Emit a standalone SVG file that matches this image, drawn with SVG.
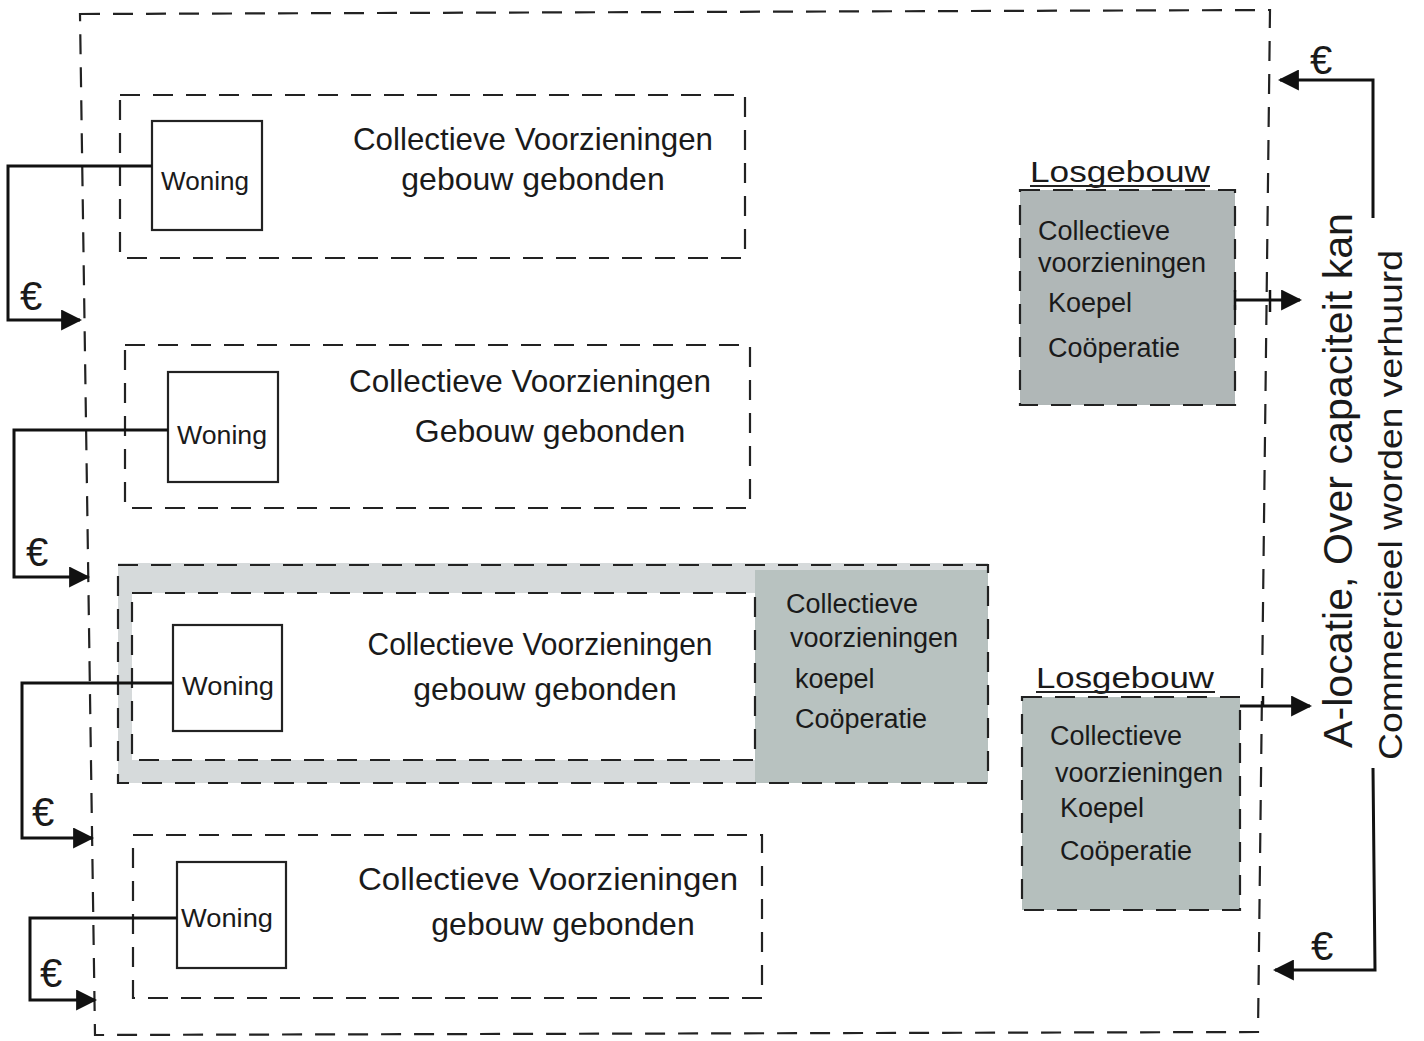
<svg xmlns="http://www.w3.org/2000/svg" width="1424" height="1041" viewBox="0 0 1424 1041">
<style>
.dash{fill:none;stroke:#222;stroke-width:2.2;stroke-dasharray:20 13}
.box{fill:#fff;stroke:#222;stroke-width:2.2}
.con{fill:none;stroke:#111;stroke-width:3}
.t{font-family:"Liberation Sans","DejaVu Sans",sans-serif;fill:#1a1a1a}
.big{font-size:32px}
.mid{font-size:27px}
.w{font-size:26px}
.eur{font-size:40px}
.los{font-size:30px}
</style>
<defs>
<marker id="ah" viewBox="0 0 10 10" refX="9" refY="5" markerWidth="7" markerHeight="7" markerUnits="strokeWidth" orient="auto">
<path d="M0,0 L10,5 L0,10 Z" fill="#111"/>
</marker>
</defs>
<rect width="1424" height="1041" fill="#fff"/>

<g id="site">
<path class="dash" d="M80,14 L1270,10 L1258,1032 L95,1035 Z"/>
</g>

<g id="building1">
<rect class="dash" x="120" y="95" width="625" height="163"/>
<rect class="box" x="152" y="121" width="110" height="109"/>
<text class="t w" x="161" y="190" textLength="88" lengthAdjust="spacingAndGlyphs">Woning</text>
<text class="t big" x="533" y="150" text-anchor="middle" textLength="360" lengthAdjust="spacingAndGlyphs">Collectieve Voorzieningen</text>
<text class="t big" x="533" y="190" text-anchor="middle">gebouw gebonden</text>
</g>

<g id="building2">
<rect class="dash" x="125" y="345" width="625" height="163"/>
<rect class="box" x="168" y="372" width="110" height="110"/>
<text class="t w" x="177" y="444" textLength="90" lengthAdjust="spacingAndGlyphs">Woning</text>
<text class="t big" x="530" y="392" text-anchor="middle" textLength="362" lengthAdjust="spacingAndGlyphs">Collectieve Voorzieningen</text>
<text class="t big" x="550" y="442" text-anchor="middle">Gebouw gebonden</text>
</g>

<g id="building3">
<rect x="118" y="563" width="870" height="220" fill="#d6dadb"/>
<rect x="755" y="570" width="233" height="213" fill="#b8c2c0"/>
<rect class="dash" x="118" y="565" width="870" height="218"/>
<rect x="132" y="593" width="623" height="167" fill="#fff"/>
<rect class="dash" x="132" y="593" width="623" height="167"/>
<rect class="box" x="173" y="625" width="109" height="106"/>
<text class="t w" x="182" y="695" textLength="92" lengthAdjust="spacingAndGlyphs">Woning</text>
<text class="t big" x="540" y="655" text-anchor="middle" textLength="345" lengthAdjust="spacingAndGlyphs">Collectieve Voorzieningen</text>
<text class="t big" x="545" y="700" text-anchor="middle">gebouw gebonden</text>
<text class="t mid" x="786" y="613">Collectieve</text>
<text class="t mid" x="790" y="647">voorzieningen</text>
<text class="t mid" x="795" y="688">koepel</text>
<text class="t mid" x="795" y="728">Coöperatie</text>
</g>

<g id="building4">
<rect class="dash" x="133" y="835" width="629" height="163"/>
<rect class="box" x="177" y="862" width="109" height="106"/>
<text class="t w" x="181" y="927" textLength="92" lengthAdjust="spacingAndGlyphs">Woning</text>
<text class="t big" x="548" y="890" text-anchor="middle" textLength="380" lengthAdjust="spacingAndGlyphs">Collectieve Voorzieningen</text>
<text class="t big" x="563" y="935" text-anchor="middle">gebouw gebonden</text>
</g>

<g id="losgebouw1">
<text class="t los" x="1030" y="182" textLength="180" lengthAdjust="spacingAndGlyphs">Losgebouw</text>
<line x1="1030" y1="186" x2="1210" y2="186" stroke="#222" stroke-width="2"/>
<rect x="1020" y="190" width="215" height="215" fill="#b0b7b7"/>
<rect class="dash" x="1020" y="190" width="215" height="215"/>
<text class="t mid" x="1038" y="240">Collectieve</text>
<text class="t mid" x="1038" y="272">voorzieningen</text>
<text class="t mid" x="1048" y="312">Koepel</text>
<text class="t mid" x="1048" y="357">Coöperatie</text>
</g>

<g id="losgebouw2">
<text class="t los" x="1036" y="688" textLength="178" lengthAdjust="spacingAndGlyphs">Losgebouw</text>
<line x1="1036" y1="692" x2="1215" y2="692" stroke="#222" stroke-width="2"/>
<rect x="1022" y="697" width="218" height="213" fill="#b5bfbd"/>
<rect class="dash" x="1022" y="697" width="218" height="213"/>
<text class="t mid" x="1050" y="745">Collectieve</text>
<text class="t mid" x="1055" y="782">voorzieningen</text>
<text class="t mid" x="1060" y="817">Koepel</text>
<text class="t mid" x="1060" y="860">Coöperatie</text>
</g>

<g id="labels">
<text class="t" font-size="40" transform="translate(1352,748) rotate(-90)" textLength="535" lengthAdjust="spacingAndGlyphs">A-locatie, Over capaciteit kan</text>
<text class="t" font-size="33" transform="translate(1402,760) rotate(-90)" textLength="510" lengthAdjust="spacingAndGlyphs">Commercieel worden verhuurd</text>
</g>

<g id="connectors">
<path class="con" d="M152,166 L8,166 L8,320 L80,320" marker-end="url(#ah)"/>
<text class="t eur" x="20" y="310">€</text>
<path class="con" d="M168,430 L14,430 L14,577 L88,577" marker-end="url(#ah)"/>
<text class="t eur" x="26" y="566">€</text>
<path class="con" d="M173,683 L22,683 L22,838 L92,838" marker-end="url(#ah)"/>
<text class="t eur" x="32" y="826">€</text>
<path class="con" d="M177,918 L30,918 L30,1000 L95,1000" marker-end="url(#ah)"/>
<text class="t eur" x="40" y="987">€</text>
<path class="con" d="M1235,300 L1300,300" marker-end="url(#ah)"/>
<line x1="1235" y1="290" x2="1235" y2="310" stroke="#111" stroke-width="2.5"/>
<line x1="1270" y1="290" x2="1270" y2="312" stroke="#111" stroke-width="2.5"/>
<path class="con" d="M1240,706 L1310,706" marker-end="url(#ah)"/>
<line x1="1263" y1="696" x2="1263" y2="706" stroke="#111" stroke-width="2.5"/>
<path class="con" d="M1373,218 L1373,80 L1280,80" marker-end="url(#ah)"/>
<text class="t eur" x="1310" y="74">€</text>
<path class="con" d="M1373,768 L1375,970 L1275,970" marker-end="url(#ah)"/>
<text class="t eur" x="1311" y="960">€</text>
</g>
</svg>
